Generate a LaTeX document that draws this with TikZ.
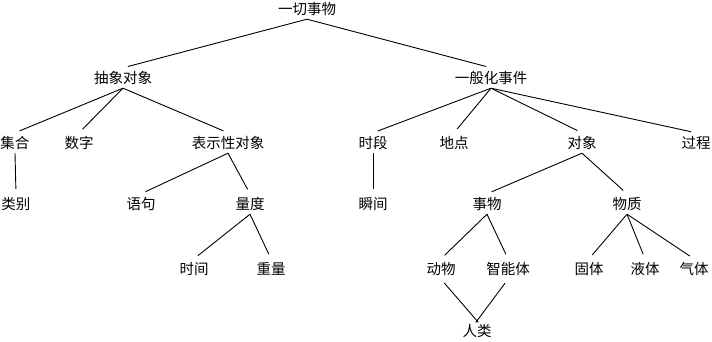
\documentclass[tikz,border=0pt]{standalone}
\usepackage{fontspec}
\newfontfamily\cjk{Noto Sans CJK SC}
\usetikzlibrary{positioning}

\begin{document}
\begin{tikzpicture}[
      x=1pt, y=-1pt,
      concept/.style={inner sep=0pt, minimum height=20pt, font=\cjk\fontsize{14.5}{16}\selectfont},
      link/.style={line width=0.9pt, shorten >=5pt}
    ]
    \useasboundingbox (0,0) rectangle (712,342);
    % Root and first level
    \node[concept] (all) at (307,9) {一切事物};
    \node[concept] (abs) at (123,78) {抽象对象};
    \node[concept] (gen) at (491,78) {一般化事件};
    % Abstract objects
    \node[concept] (set) at (15,143) {集合};
    \node[concept] (num) at (79,143) {数字};
    \node[concept] (rep) at (228,143) {表示性对象};
    \node[concept] (cat) at (16,204) {类别};
    \node[concept] (sen) at (141,204) {语句};
    \node[concept] (mea) at (250,204) {量度};
    \node[concept] (tim) at (194,269) {时间};
    \node[concept] (wei) at (271,269) {重量};
    % Generalized events
    \node[concept] (per) at (373,143) {时段};
    \node[concept] (pla) at (454,143) {地点};
    \node[concept] (obj) at (582,143) {对象};
    \node[concept] (pro) at (696,143) {过程};
    \node[concept] (ins) at (373,204) {瞬间};
    \node[concept] (thi) at (487,204) {事物};
    \node[concept] (sub) at (627,204) {物质};
    \node[concept] (ani) at (441,269) {动物};
    \node[concept] (age) at (508,269) {智能体};
    \node[concept] (sol) at (589,269) {固体};
    \node[concept] (liq) at (645,269) {液体};
    \node[concept] (gas) at (694,269) {气体};
    \node[concept] (hum) at (477,331) {人类};
    % Tree edges
    \foreach \p/\c in {all/abs, all/gen, abs/set, abs/num, abs/rep, set/cat,
                       rep/sen, rep/mea, mea/tim, mea/wei, gen/per, gen/pla,
                       gen/obj, gen/pro, per/ins, obj/thi, obj/sub, thi/ani,
                       thi/age, sub/sol, sub/liq, sub/gas}{
      \draw[link] (\p.south) -- (\c.north);
    }
    % Humans are both animals and agents
    \draw[link, shorten <=5pt, shorten >=-2pt] (ani.south) -- (hum.north);
    \draw[link, shorten <=5pt, shorten >=-2pt] (age.south) -- (hum.north);
  \end{tikzpicture}
\end{document}
